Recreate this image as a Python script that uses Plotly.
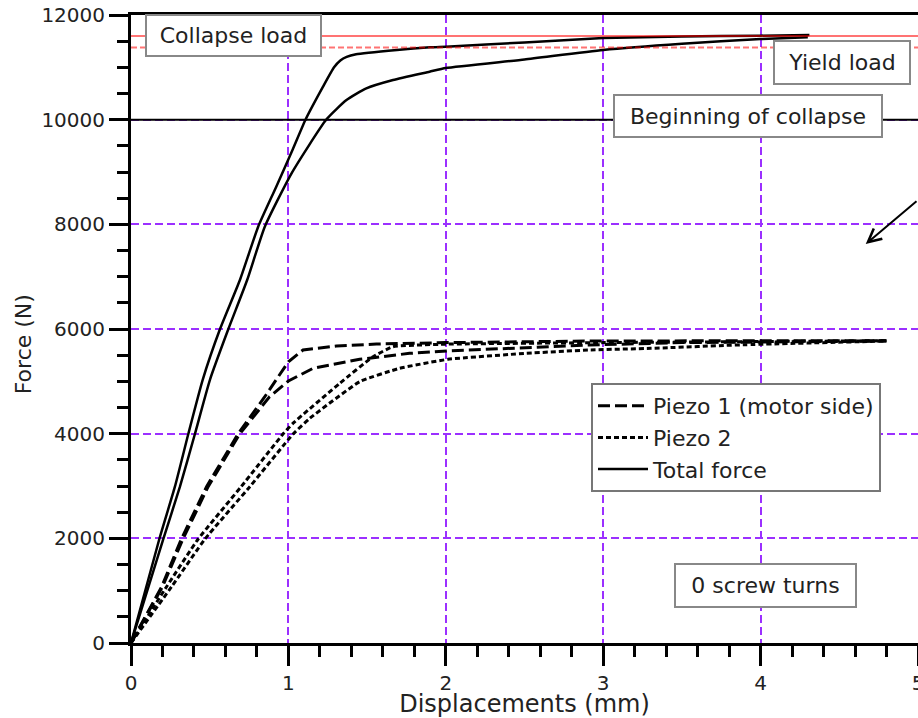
import plotly.graph_objects as go

# ---------------- data ----------------
total_a_x = [0, 0.18, 0.279, 0.364, 0.455, 0.565, 0.692, 0.808, 0.92, 1.026, 1.11, 1.22, 1.29, 1.33, 1.37, 1.43, 1.69, 1.9, 2.0, 2.5, 3.0, 3.5, 4.0, 4.31]
total_a_f = [0, 1987, 2987, 3994, 5025, 5994, 6936, 7955, 8700, 9420, 10007, 10630, 11000, 11130, 11200, 11250, 11331, 11383, 11395, 11475, 11560, 11590, 11605, 11620]

total_b_x = [0, 0.205, 0.311, 0.406, 0.501, 0.618, 0.738, 0.850, 1.02, 1.242, 1.369, 1.495, 1.665, 1.897, 2.0, 2.5, 3.0, 3.5, 4.0, 4.3]
total_b_f = [0, 1987, 2987, 3994, 5025, 5994, 6936, 7955, 8975, 10007, 10376, 10599, 10758, 10917, 10987, 11150, 11331, 11450, 11541, 11575]

piezo1_a_x = [0, 0.195, 0.32, 0.48, 0.68, 0.85, 1.0, 1.093, 1.305, 1.559, 2.0, 2.91, 4.0, 4.8]
piezo1_a_f = [0, 1076, 1987, 2987, 3994, 4706, 5375, 5599, 5675, 5713, 5740, 5770, 5776, 5776]

piezo1_b_x = [0, 0.2, 0.33, 0.49, 0.69, 0.88, 1.0, 1.157, 1.453, 1.77, 2.01, 2.91, 3.5, 4.8]
piezo1_b_f = [0, 1076, 1987, 2987, 3994, 4706, 5006, 5249, 5421, 5535, 5580, 5694, 5740, 5770]

piezo2_a_x = [0, 0.226, 0.427, 0.70, 0.966, 1.03, 1.326, 1.538, 1.665, 2.0, 3.0, 4.0, 4.8]
piezo2_a_f = [0, 1076, 1987, 2987, 3994, 4200, 4962, 5471, 5662, 5710, 5740, 5760, 5776]

piezo2_b_x = [0, 0.258, 0.47, 0.755, 1.03, 1.136, 1.453, 1.707, 2.013, 2.51, 2.91, 3.3, 3.9, 4.8]
piezo2_b_f = [0, 1076, 1987, 2987, 3994, 4293, 4994, 5249, 5421, 5535, 5599, 5630, 5700, 5770]

collapse_load = 11600
yield_load = 11380
beginning_collapse = 10000

x_ticks = [0, 1, 2, 3, 4, 5]
y_ticks = [0, 2000, 4000, 6000, 8000, 10000, 12000]

FONT = "DejaVu Sans"
GRID = "#9b30ff"

fig = go.Figure()

def add(x, y, name, dash, width, show, smooth=None):
    line = dict(color="black", width=width, dash=dash)
    if smooth:
        line.update(shape="spline", smoothing=smooth)
    fig.add_trace(go.Scatter(
        x=x, y=y, mode="lines", name=name, legendgroup=name, showlegend=show, line=line,
    ))

add(piezo1_a_x, piezo1_a_f, "Piezo 1 (motor side)", "12px,5px", 3, True)
add(piezo1_b_x, piezo1_b_f, "Piezo 1 (motor side)", "12px,5px", 3, False)
add(piezo2_a_x, piezo2_a_f, "Piezo 2", "5px,3px", 3, True, 0.4)
add(piezo2_b_x, piezo2_b_f, "Piezo 2", "5px,3px", 3, False, 0.4)
add(total_a_x, total_a_f, "Total force", "solid", 2.5, True, 0.5)
add(total_b_x, total_b_f, "Total force", "solid", 2.5, False, 0.5)

shapes = [
    dict(type="line", xref="paper", yref="y", x0=0, x1=1, y0=beginning_collapse, y1=beginning_collapse,
         line=dict(color="black", width=2), layer="above"),
    dict(type="line", xref="paper", yref="y", x0=0, x1=1, y0=collapse_load, y1=collapse_load,
         line=dict(color="rgba(255,0,0,0.55)", width=2), layer="above"),
    dict(type="line", xref="paper", yref="y", x0=0, x1=1, y0=yield_load, y1=yield_load,
         line=dict(color="rgba(255,0,0,0.55)", width=2, dash="6px,3px"), layer="above"),
]

def box(text, cx, cy, w, h):
    return dict(text=text, xref="paper", yref="paper", x=cx, y=cy, xanchor="center", yanchor="middle",
                showarrow=False, font=dict(family=FONT, size=22, color="#222"),
                bgcolor="white", bordercolor="#888", borderwidth=2, borderpad=4,
                width=w, height=h)

annotations = [
    box("Collapse load", 0.1302, 0.9674, 165, 31),
    box("Yield load", 0.9034, 0.9244, 126, 33),
    box("Beginning of collapse", 0.7836, 0.8387, 258, 32),
    box("0 screw turns", 0.8056, 0.0919, 171, 33),
    dict(text="", x=4.668, y=7624, xref="x", yref="y", showarrow=True, arrowhead=5,
         arrowsize=1.3, arrowwidth=2, arrowcolor="black", ax=70, ay=-44),
    dict(text="Force (N)", xref="paper", yref="paper", x=-0.137, y=0.476,
         xanchor="center", yanchor="middle", textangle=-90, showarrow=False,
         font=dict(family=FONT, size=22, color="#222")),
]

fig.update_layout(
    width=918, height=718,
    margin=dict(l=131, r=0, t=15, b=75, autoexpand=False),
    paper_bgcolor="white", plot_bgcolor="white",
    font=dict(family=FONT, size=20, color="#222"),
    showlegend=True,
    legend=dict(x=0.5845, y=0.414, xanchor="left", yanchor="top",
                bgcolor="white", bordercolor="#777", borderwidth=2, itemwidth=50,
                font=dict(family=FONT, size=22, color="#222"), tracegroupgap=0),
    shapes=shapes,
    annotations=annotations,
)

fig.update_xaxes(
    range=[0, 5], tickvals=x_ticks, ticktext=[str(v) for v in x_ticks],
    showline=True, linecolor="black", linewidth=3, mirror=True,
    ticks="outside", ticklen=20, tickwidth=3, tickcolor="black",
    minor=dict(dtick=0.2, ticks="outside", ticklen=11, tickwidth=3, tickcolor="black", showgrid=False),
    showgrid=True, gridcolor=GRID, gridwidth=1.5, griddash="8px,4px",
    zeroline=False, ticklabeloverflow="allow", automargin=False,
    tickfont=dict(family=FONT, size=20, color="#222"),
    title=dict(text="Displacements (mm)", font=dict(family=FONT, size=24, color="#222"), standoff=2),
)
fig.update_yaxes(
    range=[0, 12000], tickvals=y_ticks, ticktext=[str(v) for v in y_ticks],
    showline=True, linecolor="black", linewidth=3, mirror=False,
    ticks="outside", ticklen=19, tickwidth=3, tickcolor="black",
    minor=dict(dtick=500, ticks="outside", ticklen=11, tickwidth=3, tickcolor="black", showgrid=False),
    showgrid=True, gridcolor=GRID, gridwidth=1.5, griddash="8px,4px",
    zeroline=False, automargin=False,
    tickfont=dict(family=FONT, size=20, color="#222"),
)

fig.write_html("out.html", config={"displayModeBar": False},
               post_script="document.body.style.margin='0';document.body.style.overflow='hidden';")
